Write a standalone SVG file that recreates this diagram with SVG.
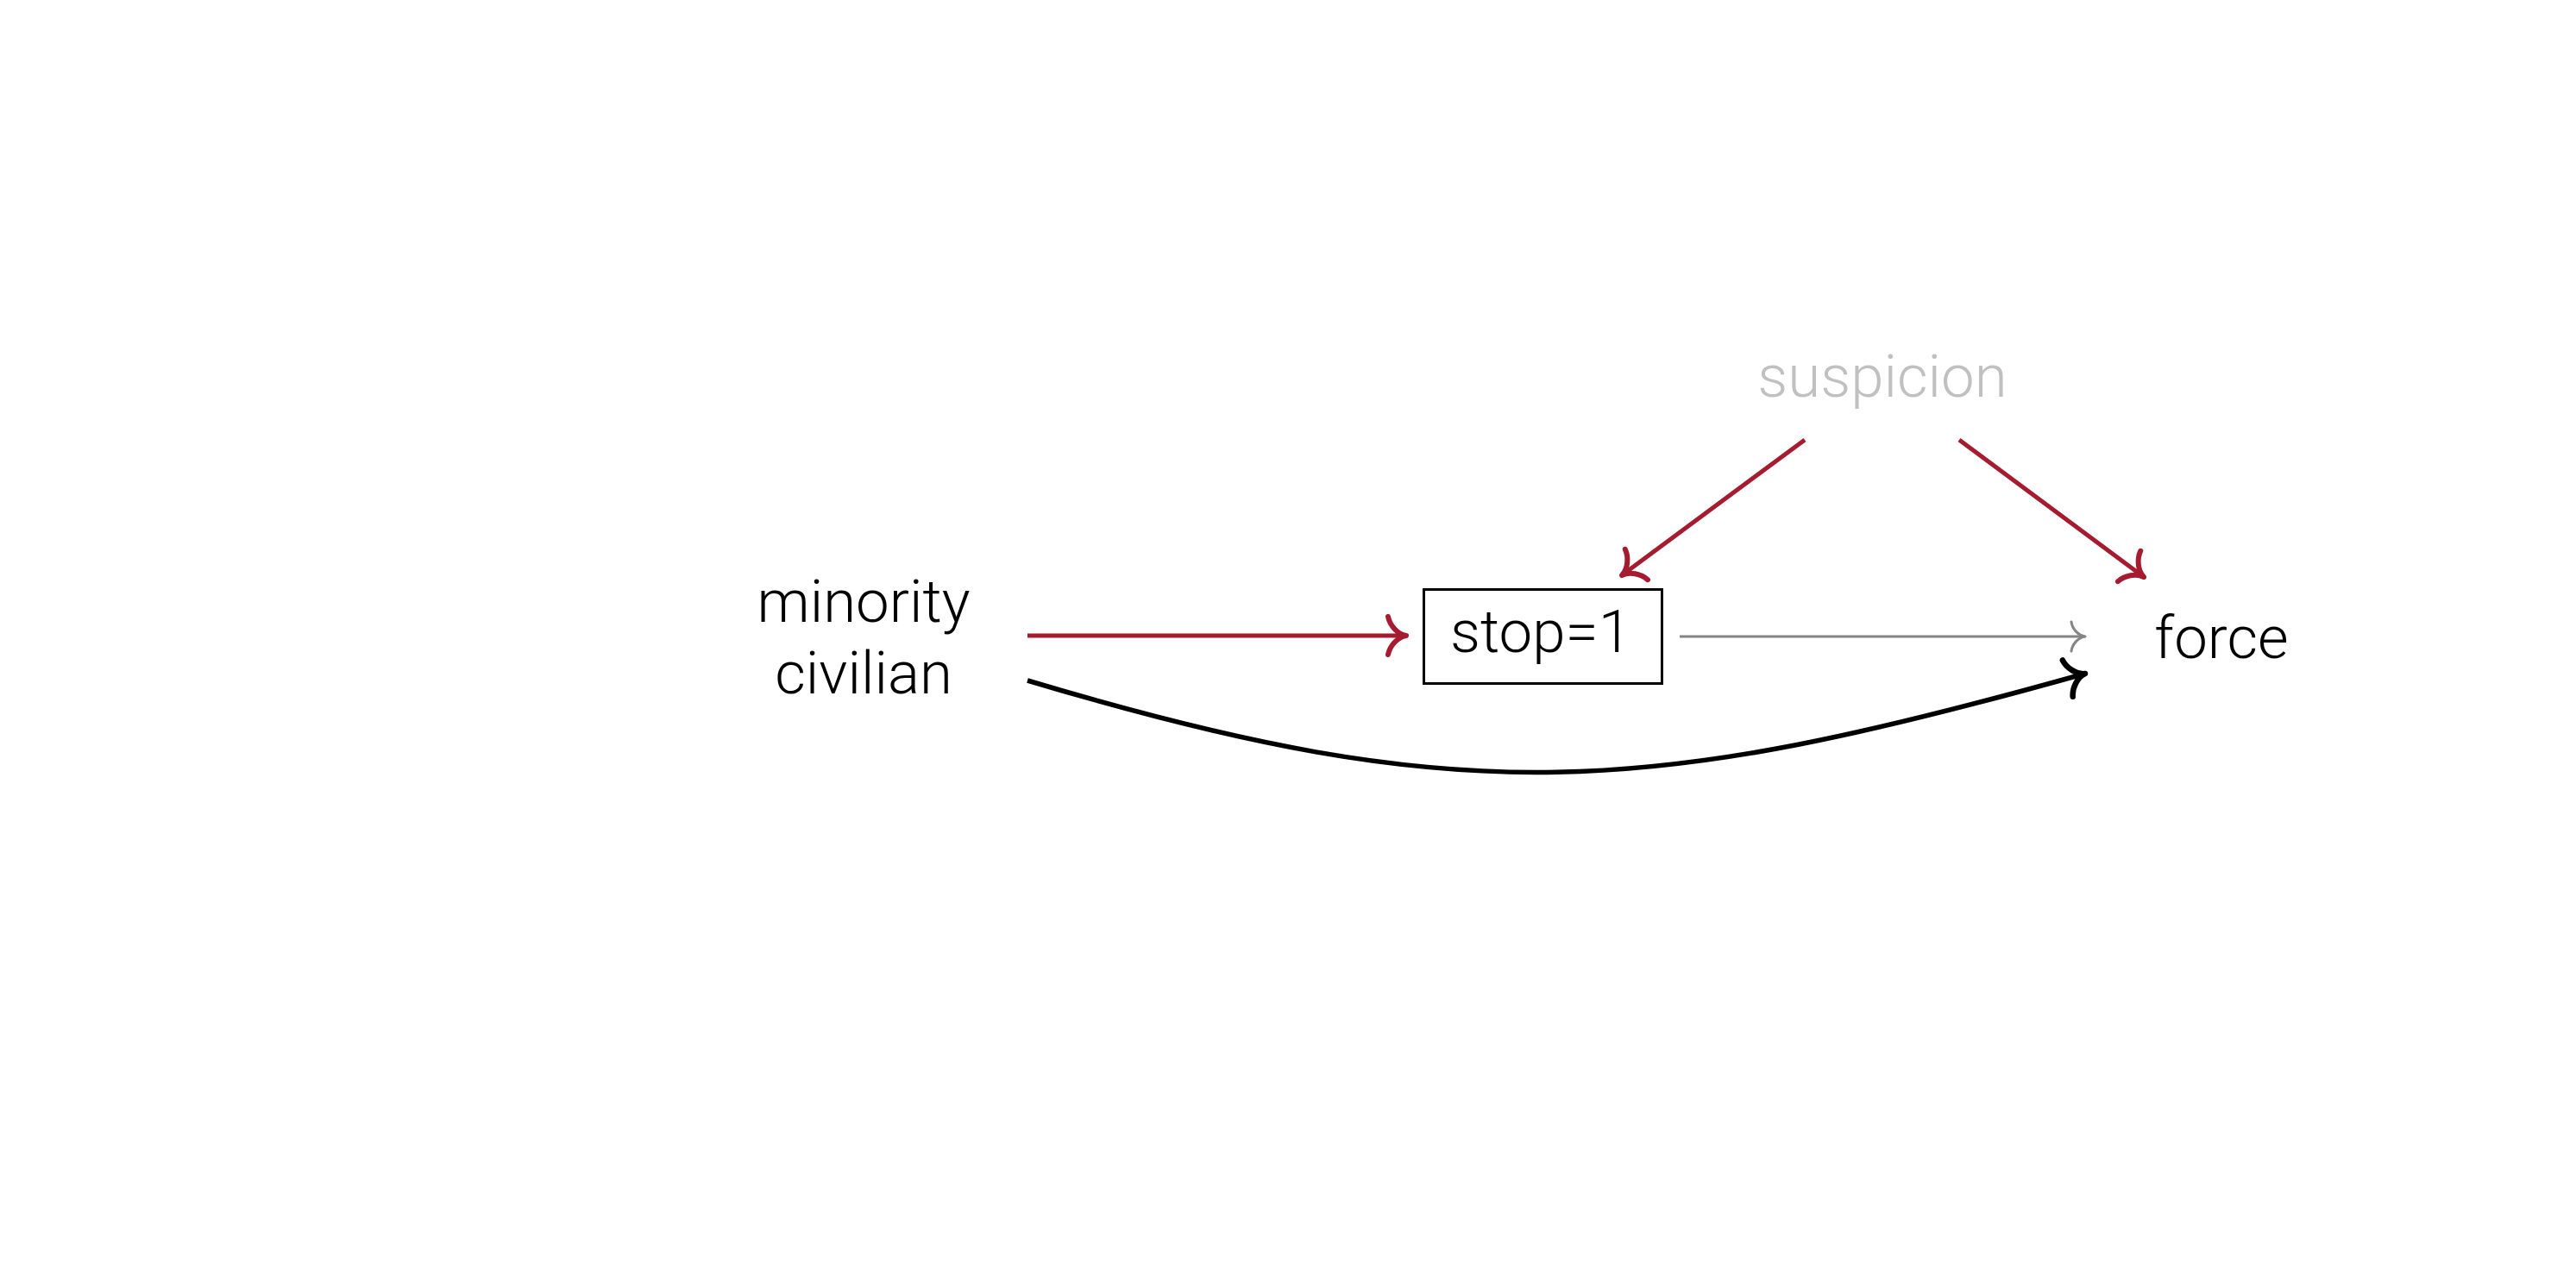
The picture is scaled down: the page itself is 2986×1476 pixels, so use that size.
<svg xmlns="http://www.w3.org/2000/svg" width="2986" height="1476" viewBox="0 0 2986 1476">
<style>
  .lbl { font-family: Roboto, "Liberation Sans", sans-serif; font-weight: 300; font-size: 69px; text-anchor: middle; fill: #000000; }
  .latent { fill: #c0c0c0; }
  .red { stroke: #a51c30; stroke-width: 5; fill: none; }
  .gray { stroke: #858585; stroke-width: 3; fill: none; }
  .blk { stroke: #000000; stroke-width: 5.5; fill: none; }
  .box { fill: #ffffff; stroke: #000000; stroke-width: 3; }
</style>
<defs>
  <marker id="arrRed" markerUnits="userSpaceOnUse" viewBox="-30 -30 40 60" refX="0" refY="0" markerWidth="40" markerHeight="60" orient="auto" overflow="visible">
    <path d="M -21,-22 C -19,-12 -10,-1.5 0,0 C -10,1.5 -19,12 -21,22" fill="none" stroke="#a51c30" stroke-width="6" stroke-linecap="round" stroke-linejoin="round"/>
  </marker>
  <marker id="arrBlk" markerUnits="userSpaceOnUse" viewBox="-30 -30 40 60" refX="0" refY="0" markerWidth="40" markerHeight="60" orient="auto" overflow="visible">
    <path d="M -21,-22 C -19,-12 -10,-1.5 0,0 C -10,1.5 -19,12 -21,22" fill="none" stroke="#000000" stroke-width="6.5" stroke-linecap="round" stroke-linejoin="round"/>
  </marker>
  <marker id="arrGray" markerUnits="userSpaceOnUse" viewBox="-30 -30 40 60" refX="0" refY="0" markerWidth="40" markerHeight="60" orient="auto" overflow="visible">
    <path d="M -16,-17 C -15,-9 -8,-1 0,0 C -8,1 -15,9 -16,17" fill="none" stroke="#858585" stroke-width="3" stroke-linecap="round" stroke-linejoin="round"/>
  </marker>
</defs>
<rect width="2986" height="1476" fill="#ffffff"/>
<g id="connectors">
  <line class="red" x1="1191" y1="737" x2="1630" y2="737" marker-end="url(#arrRed)"/>
  <line class="gray" x1="1947" y1="738" x2="2417" y2="738" marker-end="url(#arrGray)"/>
  <path class="blk" d="M 1191,789 C 1698,941 1911,923 2417,781" marker-end="url(#arrBlk)"/>
  <line class="red" x1="2092" y1="510" x2="1880" y2="667" marker-end="url(#arrRed)"/>
  <line class="red" x1="2271" y1="510" x2="2485" y2="669" marker-end="url(#arrRed)"/>
</g>
<g id="node-minority-civilian">
  <text class="lbl" x="1001" y="721">minority</text>
  <text class="lbl" x="1001" y="804">civilian</text>
</g>
<g id="node-stop">
  <rect class="box" x="1650.5" y="683.5" width="276" height="109"/>
  <text class="lbl" x="1786" y="756">stop=1</text>
</g>
<g id="node-force">
  <text class="lbl" x="2575" y="763">force</text>
</g>
<g id="node-suspicion">
  <text class="lbl latent" x="2182" y="460">suspicion</text>
</g>
</svg>
